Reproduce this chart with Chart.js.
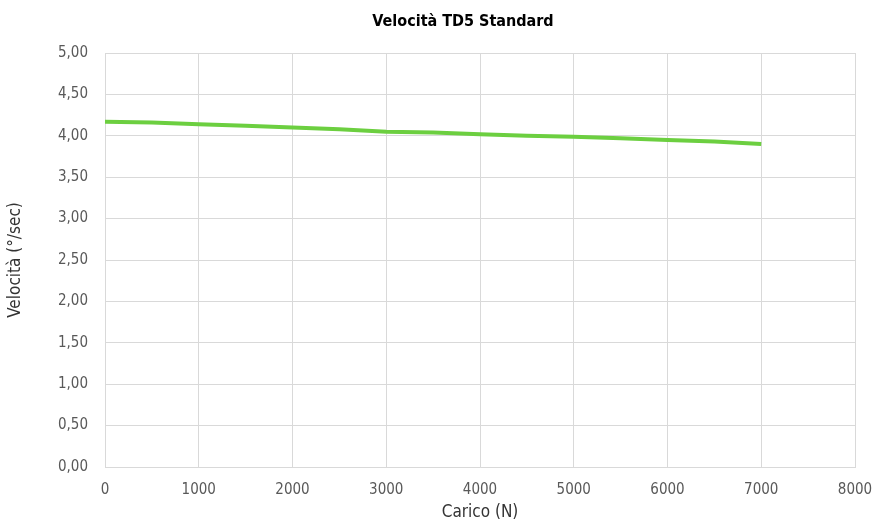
<!DOCTYPE html>
<html>
<head>
<meta charset="utf-8">
<script src="https://cdn.jsdelivr.net/npm/chart.js@4.4.0/dist/chart.umd.min.js"></script>
<style>
  html, body { margin: 0; padding: 0; background: #fff; }
  .wrap { width: 878px; height: 528px; position: relative; }
</style>
</head>
<body>
<div class="wrap"><canvas class="chart-1"></canvas></div>
<script>
// valori
const carico = [0, 500, 1000, 1500, 2000, 2500, 3000, 3500, 4000, 4500, 5000, 5500, 6000, 6500, 7000];
const velocita = [4.17, 4.16, 4.14, 4.12, 4.10, 4.08, 4.05, 4.04, 4.02, 4.00, 3.99, 3.97, 3.95, 3.93, 3.90];
const chartTitle = 'Velocità TD5 Standard';
const xTitle = 'Carico (N)';
const yTitle = 'Velocità (°/sec)';

const FONT = "'Liberation Sans Narrow', 'DejaVu Sans Condensed', sans-serif";

const titlePlugin = {
  id: 'titolo',
  afterDraw(chart) {
    const c = chart.ctx;
    const a = chart.chartArea;
    c.save();
    c.font = 'bold 16px ' + FONT;
    c.fillStyle = '#000';
    c.textAlign = 'center';
    c.textBaseline = 'middle';
    c.fillText(chartTitle, (a.left + a.right) / 2 - 17, 22);
    c.restore();
  }
};

const ctx = document.querySelector('.chart-1').getContext('2d');
let myChart = new Chart(ctx, {
  type: 'line',
  data: {
    datasets: [{
      data: carico.map((x, i) => ({x: x, y: velocita[i]})),
      borderColor: '#6ccf40',
      borderWidth: 4,
      pointRadius: 0,
      fill: false,
      tension: 0
    }]
  },
  options: {
    responsive: true,
    maintainAspectRatio: false,
    animation: false,
    layout: { padding: { top: 53, right: 23, bottom: 5, left: 5 } },
    plugins: {
      legend: { display: false },
      tooltip: { enabled: false }
    },
    scales: {
      x: {
        type: 'linear',
        min: 0, max: 8000,
        ticks: {
          stepSize: 1000, color: '#595959', font: { family: FONT, size: 15 }, padding: 14,
          callback: v => String(v)
        },
        grid: { color: '#d9d9d9', drawTicks: false },
        border: { color: '#d9d9d9' },
        title: { display: true, text: xTitle, color: '#333', font: { family: FONT, size: 17 }, padding: 0 },
        afterFit(scale) { scale.height = 56; scale.paddingRight = 0; scale.paddingLeft = 0; }
      },
      y: {
        min: 0, max: 5,
        ticks: {
          stepSize: 0.5, color: '#595959', font: { family: FONT, size: 15 }, padding: 17,
          callback: v => v.toFixed(2).replace('.', ',')
        },
        grid: { color: '#d9d9d9', drawTicks: false },
        border: { color: '#d9d9d9' },
        title: { display: true, text: yTitle, color: '#333', font: { family: FONT, size: 17 }, padding: 0 },
        afterFit(scale) { scale.width = 100; }
      }
    }
  },
  plugins: [titlePlugin]
});
</script>
</body>
</html>
